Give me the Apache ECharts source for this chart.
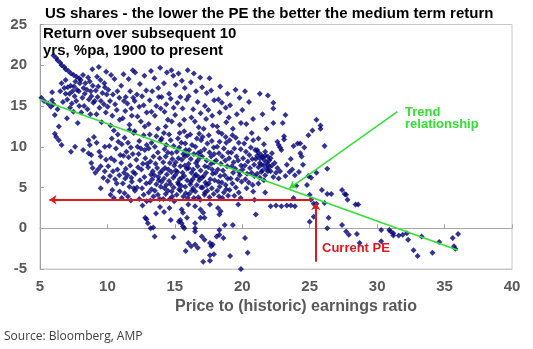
<!DOCTYPE html>
<html>
<head>
<meta charset="utf-8">
<script src="https://cdn.jsdelivr.net/npm/echarts@6/dist/echarts.min.js"></script>
<style>
  html, body { margin: 0; padding: 0; background: #fff; }
  #chart { width: 533px; height: 349px; }
</style>
</head>
<body>
<div id="chart"></div>
<script>
// Trailing P/E at the start of each period vs. annualised return over the next 10 years
const observations = [
  [5.1,16.0],[5.3,15.6],[5.6,15.3],[5.9,16.7],[5.9,15.7],[6.0,15.2],[5.8,14.9],
  [6.0,21.2],[6.2,20.9],[6.3,20.6],[6.5,20.3],[6.6,20.0],[6.8,19.8],[6.9,19.5],[6.1,13.9],[6.4,12.5],[6.1,11.6],[6.2,11.2],[6.4,10.8],[6.6,10.2],[6.5,16.8],[6.8,17.2],[6.9,16.5],[6.7,15.5],[6.3,14.6],[6.9,18.2],[6.6,17.8],
  [7.1,19.3],[7.3,19.0],[7.5,18.8],[7.7,18.6],[7.9,18.4],
  [7.63,18.0],[7.95,17.8],[7.27,17.5],[7.52,17.4],[7.06,17.3],[7.74,17.0],[7.41,16.8],[7.88,16.8],[7.19,16.5],[7.57,16.2],[7.02,15.8],[7.69,15.6],[7.36,15.3],[7.91,15.0],[7.23,14.8],[7.48,14.3],
  [7.3,9.4],[7.6,10.0],[7.0,13.5],[7.8,12.9],
  [8.88,19.5],[8.19,18.8],[8.57,18.5],[8.02,18.2],[8.69,18.0],[8.36,17.8],[8.91,17.5],[8.23,17.2],[8.48,17.0],[8.77,16.8],[8.32,16.5],[8.81,16.2],[8.14,16.0],[8.63,15.8],[8.95,15.4],[8.27,15.0],[8.52,14.6],[8.06,14.2],[8.74,14.0],
  [8.6,10.8],[8.7,10.2],[8.2,9.6],[8.6,9.2],[8.8,9.0],[8.8,8.0],[8.9,7.4],
  [9.36,19.8],[9.91,19.2],[9.23,18.6],[9.48,18.2],[9.77,17.8],[9.32,17.4],[9.81,17.3],[9.14,16.9],[9.63,16.6],[9.95,16.4],[9.27,16.1],[9.52,15.6],[9.06,15.6],[9.74,15.2],[9.41,14.8],[9.88,14.2],[9.19,14.0],[9.57,13.0],
  [9.4,9.4],[9.5,8.8],[9.1,6.8],[9.3,7.2],[9.5,7.6],[9.8,7.0],[9.7,6.2],[9.5,4.9],[9.2,10.5],[9.8,10.0],[9.9,8.4],[9.0,11.2],
  [10.27,18.8],[10.52,18.3],[10.06,17.0],[10.74,16.8],[10.41,16.4],[10.88,16.0],[10.19,15.6],[10.57,15.2],[10.02,14.9],[10.69,14.5],[10.36,13.8],[10.91,13.3],[10.23,12.6],[10.48,12.0],[10.77,11.5],
  [10.32,11.0],[10.81,10.6],[10.14,10.1],[10.63,9.8],[10.95,9.0],[10.27,8.6],[10.52,8.3],[10.06,7.6],[10.74,7.2],[10.41,7.0],[10.88,6.5],[10.19,6.4],[10.57,6.0],[10.02,5.8],[10.69,5.5],[10.36,4.7],[10.91,4.5],[10.23,4.1],[10.48,3.7],
  [11.88,19.4],[11.19,18.9],[11.57,18.3],[11.02,17.5],[11.69,16.8],[11.36,16.1],[11.91,16.0],[11.23,15.6],[11.48,15.3],[11.77,14.7],[11.32,14.4],[11.81,13.8],[11.14,13.5],[11.63,12.7],
  [11.63,12.1],[11.95,11.7],[11.27,11.1],[11.52,10.5],[11.06,10.3],[11.74,9.9],[11.41,9.4],[11.88,9.1],[11.19,8.9],[11.57,8.7],[11.02,8.0],[11.69,7.7],[11.36,7.3],[11.91,6.9],[11.23,6.8],[11.48,6.5],[11.77,6.2],[11.32,6.1],[11.81,5.7],[11.14,5.5],[11.63,5.1],[11.95,4.9],[11.27,4.3],[11.52,3.9],[11.06,3.7],[11.74,3.4],
  [12.06,19.1],[12.74,18.7],[12.41,17.7],[12.88,16.9],[12.19,16.4],[12.57,16.2],[12.02,15.6],[12.69,15.1],[12.36,14.9],[12.91,14.2],[12.23,13.7],[12.48,13.1],[12.77,12.5],
  [12.02,11.9],[12.69,11.4],[12.36,10.7],[12.91,10.2],[12.23,10.0],[12.48,9.8],[12.77,9.6],[12.32,9.1],[12.81,8.6],[12.14,8.4],[12.63,7.9],[12.95,7.9],[12.27,7.5],[12.52,7.2],[12.06,6.7],[12.74,6.3],[12.41,5.9],[12.88,5.5],[12.19,5.0],[12.57,4.9],[12.04,4.6],[12.69,4.1],[12.36,3.6],[12.91,3.3],
  [12.8,1.3],[12.9,1.1],[12.6,2.8],
  [13.91,19.7],[13.23,19.3],[13.48,18.4],[13.77,17.2],[13.32,16.8],[13.81,16.1],[13.14,15.7],[13.63,15.0],[13.95,14.7],[13.27,14.3],[13.52,13.8],[13.06,12.8],[13.74,12.2],
  [13.14,11.5],[13.63,11.3],[13.95,10.8],[13.27,10.5],[13.52,10.0],[13.06,9.8],[13.74,9.3],[13.41,8.8],[13.88,8.6],[13.19,8.2],[13.57,7.9],[13.02,7.5],[13.69,7.4],[13.36,7.0],[13.91,6.8],[13.23,6.6],[13.48,6.5],[13.77,6.3],[13.32,6.0],[13.81,5.9],[13.14,5.6],[13.63,5.4],[13.95,5.1],[13.27,4.8],[13.52,4.6],[13.06,4.4],[13.74,4.1],[13.41,3.9],[13.88,3.6],[13.19,3.4],
  [13.0,0.6],[13.2,0.0],[13.5,-1.0],[13.4,0.1],[13.9,2.6],[13.6,1.8],
  [14.74,19.4],[14.41,19.1],[14.88,18.7],[14.19,17.8],[14.57,16.5],[14.02,16.1],[14.69,15.9],[14.36,15.2],[14.91,14.8],[14.23,14.3],[14.48,13.3],[14.77,13.1],[14.32,12.5],
  [14.19,11.7],[14.57,11.5],[14.02,11.0],[14.69,10.8],[14.36,10.2],[14.91,10.1],[14.23,9.7],[14.48,9.3],[14.77,9.2],[14.32,8.8],[14.81,8.5],[14.14,8.1],[14.63,8.0],[14.95,7.7],[14.27,7.4],[14.52,7.2],[14.06,7.1],[14.74,6.9],[14.41,6.6],[14.88,6.2],[14.19,6.1],[14.57,5.8],[14.02,5.7],[14.69,5.4],[14.36,5.3],[14.91,5.0],[14.23,4.9],[14.48,4.6],[14.77,4.5],[14.32,4.2],[14.81,3.9],[14.14,3.6],[14.63,3.6],[14.95,3.3],
  [14.6,2.5],[14.9,-1.1],[14.7,1.0],[14.2,2.0],
  [15.95,19.4],[15.27,19.0],[15.52,18.1],[15.06,17.6],[15.74,17.2],[15.41,16.1],[15.88,15.8],[15.19,15.4],[15.57,14.7],[15.02,13.9],[15.69,13.3],[15.36,12.7],
  [15.69,11.9],[15.36,11.7],[15.91,11.3],[15.23,11.0],[15.48,10.5],[15.77,10.4],[15.32,9.9],[15.81,9.6],[15.14,9.4],[15.63,9.1],[15.95,9.0],[15.27,8.6],[15.52,8.4],[15.06,8.1],[15.74,7.7],[15.41,7.6],[15.88,7.3],[15.19,6.9],[15.57,6.8],[15.02,6.5],[15.69,6.4],[15.36,6.0],[15.91,5.9],[15.23,5.6],[15.48,5.2],[15.77,5.1],[15.32,4.8],[15.81,4.3],[15.14,4.1],[15.63,3.9],[15.95,3.7],[15.27,5.4],[15.52,6.2],[15.06,7.1],[15.74,8.8],[15.41,4.6],
  [15.5,2.3],[15.6,1.9],[15.4,1.0],[15.3,0.8],[15.5,0.6],[15.6,0.2],[15.7,0.0],[15.9,1.3],[15.8,-2.8],
  [16.41,19.0],[16.88,18.5],[16.19,17.9],[16.57,16.8],[16.02,16.2],[16.69,15.5],[16.36,14.6],[16.91,14.1],[16.23,13.6],[16.48,13.1],[16.77,12.4],
  [16.81,11.6],[16.14,11.5],[16.63,11.0],[16.95,10.8],[16.27,10.2],[16.52,10.0],[16.06,9.6],[16.74,9.2],[16.41,9.1],[16.88,8.7],[16.19,8.5],[16.57,8.0],[16.02,7.9],[16.69,7.6],[16.36,7.2],[16.91,7.1],[16.23,6.8],[16.48,6.4],[16.77,6.3],[16.32,6.0],[16.81,5.9],[16.14,5.4],[16.63,5.3],[16.95,5.0],[16.27,4.6],[16.52,4.5],[16.06,4.2],[16.74,3.8],[16.41,3.7],[16.88,3.5],[16.19,5.7],[16.57,6.6],[16.02,7.4],[16.69,8.3],[16.36,4.9],[16.91,9.4],
  [16.0,2.9],[16.5,2.7],[16.5,0.6],[16.5,0.0],[16.5,-0.4],[16.0,-1.8],[16.2,-2.2],[16.5,-2.0],[16.7,-2.4],[16.9,1.3],[16.9,2.3],
  [17.57,18.4],[17.02,17.3],[17.69,16.9],[17.36,16.6],[17.91,15.7],[17.23,15.0],[17.48,14.5],[17.77,13.8],[17.32,13.4],[17.81,12.6],[17.14,12.2],
  [17.52,11.4],[17.06,11.2],[17.74,10.7],[17.41,10.4],[17.88,9.9],[17.19,9.7],[17.57,9.3],[17.02,8.8],[17.69,8.8],[17.36,8.3],[17.91,8.1],[17.23,7.6],[17.48,7.5],[17.77,7.2],[17.32,6.8],[17.81,6.7],[17.14,6.4],[17.63,6.0],[17.95,5.9],[17.27,5.6],[17.52,5.5],[17.06,5.0],[17.74,4.9],[17.41,4.6],[17.88,4.2],[17.19,4.1],[17.57,3.8],[17.02,6.2],[17.69,7.9],[17.36,5.3],[17.91,9.1],[17.23,4.4],
  [17.6,2.9],[17.1,1.9],[17.2,1.3],[17.0,-1.0],[17.2,-1.4],[17.6,-1.8],[17.7,-2.2],[17.8,-2.0],[17.6,-3.3],[17.9,-3.2],[17.1,-4.1],[17.6,-4.0],
  [18.36,17.4],[18.91,16.5],[18.23,15.8],[18.48,15.4],[18.77,14.8],[18.32,14.2],[18.81,13.0],[18.14,12.5],
  [18.23,11.8],[18.48,11.6],[18.77,11.2],[18.32,10.6],[18.81,10.5],[18.14,10.0],[18.63,9.8],[18.95,9.3],[18.27,9.2],[18.52,8.8],[18.06,8.3],[18.74,8.3],[18.41,7.9],[18.88,7.6],[18.19,7.2],[18.57,7.1],[18.02,6.8],[18.69,6.5],[18.36,6.4],[18.91,6.1],[18.23,5.7],[18.48,5.6],[18.77,5.3],[18.32,5.1],[18.81,4.8],[18.14,4.6],[18.63,4.4],[18.95,4.0],[18.27,3.9],[18.52,3.7],
  [18.2,2.5],[18.4,2.1],[18.3,1.7],[18.1,-1.0],[18.3,-0.2],[18.3,-0.8],[18.6,-1.2],[18.7,0.4],
  [19.5,17.0],[19.8,16.0],[19.1,15.1],[19.6,14.0],[19.0,13.6],[19.9,12.9],[19.3,12.2],
  [19.27,11.4],[19.52,11.1],[19.06,10.8],[19.74,10.5],[19.41,9.8],[19.88,9.7],[19.19,9.3],[19.57,8.8],[19.02,8.6],[19.69,8.3],[19.36,8.1],[19.91,7.7],[19.23,7.6],[19.48,7.3],[19.77,6.9],[19.32,6.8],[19.81,6.5],[19.14,6.1],[19.63,6.0],[19.95,5.7],[19.27,5.5],[19.52,5.0],[19.06,4.7],[19.74,4.4],[19.41,4.0],[19.88,3.7],
  [19.3,0.4],[19.1,-3.4],[19.9,-5.0],[19.7,2.9],
  [20.0,14.5],[20.3,12.8],[20.5,15.5],[20.8,13.4],[20.2,16.8],[20.7,11.7],
  [20.32,11.0],[20.81,10.8],[20.14,10.4],[20.63,9.9],[20.95,9.6],[20.27,9.4],[20.52,9.0],[20.06,8.6],[20.74,8.5],[20.41,8.2],[20.88,7.8],[20.19,7.7],[20.57,7.4],[20.02,7.2],[20.69,6.8],[20.36,6.7],[20.91,6.4],[20.23,6.0],[20.48,5.6],[20.77,5.3],[20.32,4.9],[20.81,4.5],[20.9,3.5],
  [20.2,-1.2],[20.4,-3.0],[21.0,1.7],
  [21.3,16.5],[21.5,14.0],[21.8,12.2],[21.2,11.0],[21.6,10.3],[21.1,9.6],[21.4,9.0],[21.7,9.4],[21.0,8.5],[21.3,8.0],[21.6,8.4],[21.9,7.8],[21.2,7.5],[21.5,7.1],[21.8,7.3],[21.1,6.7],[21.4,6.9],[21.7,6.5],[21.3,6.2],[21.6,5.9],[21.7,4.4],[21.2,5.5],[21.9,8.8],[21.9,16.3],
  [21.1,8.9],[21.3,8.6],[21.5,8.7],[21.6,7.7],[21.8,8.1],[22.0,7.5],[22.1,8.6],[21.4,7.8],[21.9,7.0],[22.2,9.2],[21.2,9.3],[21.7,8.9],
  [22.3,15.4],[22.3,14.7],[22.3,12.9],[22.6,10.6],[22.7,10.2],[22.8,9.9],[22.9,9.6],[22.0,8.3],[22.2,7.7],[22.4,8.0],[22.6,7.4],[22.1,7.0],[22.5,6.8],[22.8,7.0],[22.3,6.3],[22.7,6.1],[22.1,2.7],[22.5,2.8],[22.9,2.7],
  [23.2,13.9],[23.0,12.9],[23.1,11.3],[23.1,10.9],[23.8,10.1],[23.6,8.5],[23.3,7.8],[23.5,6.9],[23.9,6.5],[23.2,6.4],[23.7,7.2],[24.0,5.2],[23.8,3.7],[23.3,2.8],[23.6,2.8],[23.9,2.7],
  [24.1,10.4],[24.3,10.4],[24.6,9.9],[24.3,9.2],[24.4,8.8],[24.5,7.8],[24.9,11.4],[24.9,6.4],[24.8,5.3],[24.2,6.9],
  [25.1,6.2],[25.5,6.8],[25.5,13.3],[25.8,12.6],[25.8,12.2],[25.2,12.0],[25.9,4.7],[25.0,4.1],[25.1,3.5],[25.3,3.0],[25.5,3.0],[25.3,1.4],[25.0,0.8],
  [26.1,10.1],[26.3,7.3],[26.3,4.2],[26.6,4.2],[26.1,3.1],[26.4,1.3],[26.3,0.0],[27.4,4.7],[27.6,4.2],[27.7,4.1],[27.8,3.5],[27.4,0.4],[27.7,-0.4],[27.9,-0.8],[28.4,2.9],[28.6,2.9],[28.5,-0.7],[28.7,-1.8],
  [30.3,-0.2],[30.9,-0.2],[31.0,-0.4],[31.2,-0.6],[31.2,-0.9],[31.6,-0.9],[31.9,-0.8],[32.2,-0.6],[32.3,-1.4],[33.3,-1.0],[30.3,-1.6],[32.7,-2.7],[33.0,-3.4],[34.1,-3.0],[34.6,-1.7],[35.6,-1.2],[35.7,-2.2],[35.8,-2.5],[36.0,-0.7]
];

// Fitted trend line end points
const trendLine = [[5, 15.8], [36, -2.7]];
// Pointer from the "Trend relationship" label to the trend line
const trendPointer = [[31.5, 14.3], [23.5, 4.9]];
// Return implied at today's P/E, carried across to the y axis
const currentReturnArrow = [[25.2, 3.5], [5.7, 3.5]];
// Marker rising from below to today's P/E on the trend line
const currentPeArrow = [[25.45, -4.1], [25.45, 3.1]];

const xRange = { min: 5, max: 40, step: 5 };
const yRange = { min: -5, max: 25, step: 5 };

const FONT = 'Liberation Sans, Arial, sans-serif';
const GREY = '#595959';
const NAVY = '#000078';
const GREEN = '#33e033';
const RED = '#e3161b';

function arrow(pair, color, width) {
  return [
    { coord: pair[0], symbol: 'none', lineStyle: { color: color, width: width, type: 'solid' } },
    { coord: pair[1], symbol: 'arrow', symbolSize: 7 }
  ];
}

const chart = echarts.init(document.getElementById('chart'), null, { renderer: 'canvas' });

chart.setOption({
  animation: false,
  backgroundColor: '#fff',
  grid: { left: 40, top: 24.5, right: 21, bottom: 80, show: true, borderColor: '#c8c8c8', borderWidth: 1 },
  xAxis: [
    {
      type: 'value', min: xRange.min, max: xRange.max, interval: xRange.step,
      position: 'bottom',
      axisLine: { show: true, onZero: false, lineStyle: { color: '#c8c8c8' } },
      axisTick: { show: false },
      splitLine: { show: false },
      axisLabel: { margin: 10, fontSize: 15, fontWeight: 'bold', color: GREY, fontFamily: FONT },
      name: 'Price to (historic) earnings ratio',
      nameLocation: 'middle',
      nameGap: 25,
      nameTextStyle: { fontSize: 16, fontWeight: 'bold', color: GREY, fontFamily: FONT, padding: [0, 0, 0, 40] }
    },
    {
      type: 'value', min: xRange.min, max: xRange.max, interval: xRange.step,
      position: 'top',
      axisLine: { show: true, onZero: true, lineStyle: { color: '#a6a6a6' } },
      axisTick: { show: true, inside: false, length: 4, lineStyle: { color: '#a6a6a6' } },
      axisLabel: { show: false },
      splitLine: { show: false }
    }
  ],
  yAxis: {
    type: 'value', min: yRange.min, max: yRange.max, interval: yRange.step,
    axisLine: { show: true, onZero: false, lineStyle: { color: '#a0a0a0' } },
    axisTick: { show: true, inside: true, length: 4, lineStyle: { color: '#a0a0a0' } },
    splitLine: { show: false },
    axisLabel: { margin: 13, fontSize: 15, fontWeight: 'bold', color: GREY, fontFamily: FONT }
  },
  series: [
    {
      type: 'scatter',
      data: observations,
      symbol: 'diamond',
      symbolSize: 6,
      itemStyle: { color: NAVY },
      silent: true
    },
    {
      type: 'line',
      data: trendLine,
      symbol: 'none',
      lineStyle: { color: GREEN, width: 1.5 },
      silent: true,
      markLine: {
        silent: true,
        animation: false,
        label: { show: false },
        data: [arrow(trendPointer, GREEN, 1.5)]
      }
    },
    {
      type: 'line',
      data: [],
      symbol: 'none',
      silent: true,
      markLine: {
        silent: true,
        animation: false,
        label: { show: false },
        data: [arrow(currentReturnArrow, RED, 2), arrow(currentPeArrow, RED, 2)]
      }
    }
  ],
  graphic: [
    {
      type: 'text', left: 45, top: 6,
      style: { text: 'US shares - the lower the PE the better the medium term return', font: 'bold 15px ' + FONT, fill: '#000' }
    },
    {
      type: 'text', left: 43, top: 25,
      style: { text: 'Return over subsequent 10\nyrs, %pa, 1900 to present', font: 'bold 15px ' + FONT, fill: '#000', lineHeight: 17 }
    },
    {
      type: 'text', left: 405, top: 106,
      style: { text: 'Trend\nrelationship', font: 'bold 13px ' + FONT, fill: GREEN, lineHeight: 12 }
    },
    {
      type: 'text', left: 322, top: 242,
      style: { text: 'Current PE', font: 'bold 13px ' + FONT, fill: RED }
    },
    {
      type: 'text', left: 4, top: 331,
      style: { text: 'Source: Bloomberg, AMP', font: '12px "Open Sans", sans-serif', fill: '#404040' }
    }
  ]
});
</script>
</body>
</html>
